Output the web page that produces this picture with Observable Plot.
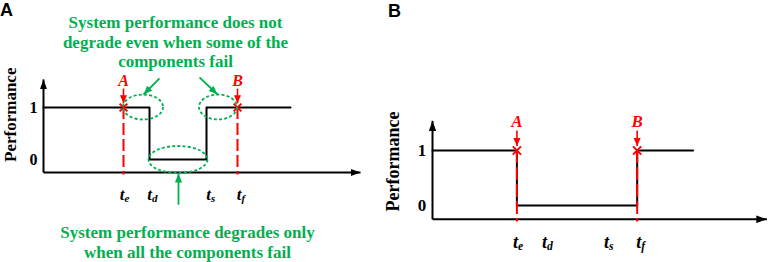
<!DOCTYPE html>
<html><head><meta charset="utf-8">
<script src="https://cdn.jsdelivr.net/npm/d3@7"></script>
<script src="https://cdn.jsdelivr.net/npm/@observablehq/plot@0.6"></script>
<style>
body{margin:0;background:#fff;}
#wrap{display:flex;width:768px;height:262px;position:relative;overflow:hidden;}
.panel{width:384px;height:262px;position:relative;}
.tag{position:absolute;font:bold 18px Arial,"Liberation Sans",sans-serif;color:#000;line-height:normal;}
</style></head><body>
<div id="wrap">
  <div class="panel" id="A"><div class="tag" style="left:0;top:0">A</div></div>
  <div class="panel" id="B"><div class="tag" style="left:4px;top:1px">B</div></div>
</div>
<script>
// ---------- data ----------
const levelValues = [1, 0];
const levelLabels = ["1", "0"];
const tickNames = ["e", "d", "s", "f"];
const tickLabelX = [4.0, 5.38, 8.32, 9.85];
const eventNames = ["A", "B"];
const eventTimes = [4, 9.7];
const axisBase = [-0.25];
const axisEndX = [15.85];
const axisEndY = [1.54];
// panel A step curve
const stepAx = [0, 5.3, 5.3, 8.15, 8.15, 12.35];
const stepAy = [1, 1, 0, 0, 1, 1];
// panel B step curve
const stepBx = [0, 4, 4, 9.7, 9.7, 12.35];
const stepBy = [1, 1, 0, 0, 1, 1];
// panel A annotations
const ellipseCx = [5.0, 8.75, 6.75];
const ellipseCy = [1, 1, -0.01];
const ellipseRx = [1.0, 0.95, 1.475];
const ellipseRy = [0.24, 0.24, 0.26];
const noteArrowX1 = [5.8, 7.8, 6.75];
const noteArrowY1 = [1.56, 1.58, -0.87];
const noteArrowX2 = [5.0, 8.7, 6.75];
const noteArrowY2 = [1.25, 1.25, -0.27];
const noteTexts = ["System performance does not\ndegrade even when some of the\ncomponents fail",
                   "System performance degrades only\nwhen all the components fail"];
const noteX = [6.6, 7.2];
const noteY = [2.27, -1.58];
const yTitle = ["Performance"];

// ---------- helpers ----------
const RED = "#ff0000", GREEN = "#00b050";
const serif = "'Liberation Serif','Times New Roman',Times,serif";

function headMarker(len, half) {
  return (color) => {
    const m = d3.create("svg:marker")
      .attr("viewBox", `${-len} ${-half} ${len} ${2 * half}`)
      .attr("markerUnits", "userSpaceOnUse")
      .attr("markerWidth", len).attr("markerHeight", 2 * half)
      .attr("refX", 0).attr("refY", 0)
      .attr("orient", "auto")
      .attr("fill", color).attr("stroke", "none");
    m.append("path").attr("d", `M${-len},${-half}L0,0L${-len},${half}Z`);
    return m.node();
  };
}

const pts = (xs, ys) => xs.map((x, i) => ({x, y: ys[i]}));

function makePanel(o) {
  const step = pts(o.stepX, o.stepY);
  const events = eventTimes.map((t, i) => ({t, name: eventNames[i]}));
  const ticks = tickLabelX.map((x, i) => ({x, name: tickNames[i]}));
  const levels = levelValues.map((v, i) => ({v, label: levelLabels[i]}));
  const axes = [
    {x1: 0, y1: axisBase[0], x2: axisEndX[0], y2: axisBase[0]},
    {x1: 0, y1: axisBase[0], x2: 0, y2: axisEndY[0]}
  ];
  const marks = [
    Plot.link(axes, {x1: "x1", y1: "y1", x2: "x2", y2: "y2", stroke: "#000", strokeWidth: 2,
      markerEnd: headMarker(10 * o.k, 3.6 * o.k)}),
    Plot.line(step, {x: "x", y: "y", stroke: "#000", strokeWidth: 2}),
    Plot.ruleX(events, {x: "t", y1: 1, y2: -0.3, stroke: RED, strokeWidth: 2, strokeDasharray: o.dash}),
    Plot.dot(events, {x: "t", y: 1, symbol: "times", r: 3.6 * o.k, stroke: RED, strokeWidth: 2}),
    Plot.link(events, {x1: "t", x2: "t", y1: 1.365, y2: 1.08, stroke: RED, strokeWidth: 1.6,
      markerEnd: headMarker(8 * o.k, 3.5 * o.k)}),
    Plot.text(events, {x: "t", y: 1.52, text: "name", fill: RED, fontFamily: serif, fontWeight: "bold",
      fontStyle: "italic", fontSize: 16 * o.k}),
    Plot.text(levels, {x: -0.5, y: "v", text: "label", fill: "#000", fontFamily: serif, fontWeight: "bold",
      fontSize: 16 * o.k}),
    Plot.text(ticks, {x: "x", y: -0.67, text: () => "t", textAnchor: "end", dx: 1, fill: "#000",
      fontFamily: serif, fontWeight: "bold", fontStyle: "italic", fontSize: 17 * o.k}),
    Plot.text(ticks, {x: "x", y: -0.67, text: "name", textAnchor: "start", dx: 1, dy: 4 * o.k, fill: "#000",
      fontFamily: serif, fontWeight: "bold", fontStyle: "italic", fontSize: 11 * o.k}),
    Plot.text(yTitle, {x: o.titleX, y: o.titleY, text: d => d, rotate: -90, fill: "#000",
      fontFamily: serif, fontWeight: "bold", fontSize: o.titleSize})
  ];
  if (o.notes) {
    const ells = ellipseCx.map((cx, i) => ({cx, cy: ellipseCy[i], rx: ellipseRx[i], ry: ellipseRy[i]}));
    const arrows = noteArrowX1.map((x1, i) => ({x1, y1: noteArrowY1[i], x2: noteArrowX2[i], y2: noteArrowY2[i]}));
    const notes = noteTexts.map((text, i) => ({text, x: noteX[i], y: noteY[i]}));
    marks.push(
      Plot.dot(ells, {x: "cx", y: "cy", render: (index, scales) => {
        const g = d3.create("svg:g");
        for (const i of index) {
          const d = ells[i];
          g.append("ellipse")
            .attr("cx", scales.x(d.cx)).attr("cy", scales.y(d.cy))
            .attr("rx", Math.abs(scales.x(d.cx + d.rx) - scales.x(d.cx)))
            .attr("ry", Math.abs(scales.y(d.cy + d.ry) - scales.y(d.cy)))
            .attr("fill", "none").attr("stroke", GREEN).attr("stroke-width", 1.8)
            .attr("stroke-dasharray", "3,2.2");
        }
        return g.node();
      }}),
      Plot.link(arrows, {x1: "x1", y1: "y1", x2: "x2", y2: "y2", stroke: GREEN, strokeWidth: 1.8,
        markerEnd: headMarker(9, 3.6)}),
      Plot.text(notes, {x: "x", y: "y", text: "text", fill: GREEN, fontFamily: serif, fontWeight: "bold",
        fontSize: 17, lineHeight: 1.15})
    );
  }
  return Plot.plot({
    width: 384, height: 262,
    marginLeft: o.ml, marginRight: o.mr, marginTop: o.mt, marginBottom: o.mb,
    x: {domain: [0, 15], axis: null},
    y: {domain: [-0.25, 1.5], axis: null},
    style: {background: "#fff", overflow: "visible"},
    marks
  });
}

const pA = makePanel({stepX: stepAx, stepY: stepAy, k: 1, dash: "12,4", ml: 43, mr: 41, mt: 81, mb: 90,
  titleX: -1.65, titleY: 0.86, titleSize: 17, notes: true});
const pB = makePanel({stepX: stepBx, stepY: stepBy, k: 1.06, dash: "13,4", ml: 48, mr: 19.5, mt: 122.5, mb: 43.25,
  titleX: -1.85, titleY: 0.8, titleSize: 18, notes: false});
document.getElementById("A").appendChild(pA);
document.getElementById("B").appendChild(pB);
</script>
</body></html>
